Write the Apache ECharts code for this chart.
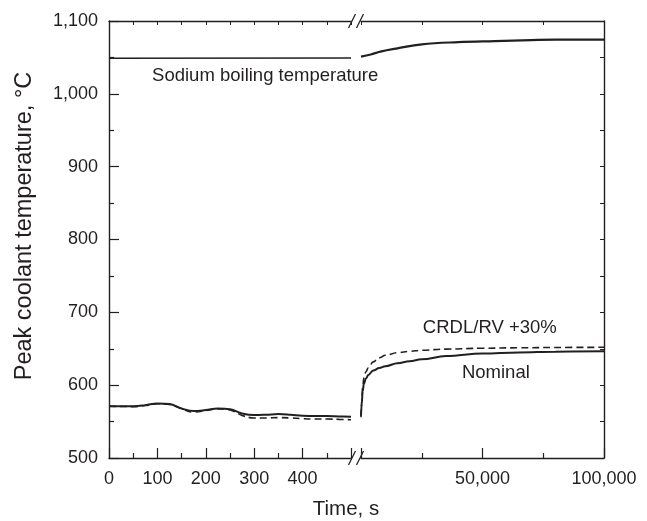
<!DOCTYPE html>
<html>
<head>
<meta charset="utf-8">
<script src="https://cdn.jsdelivr.net/npm/echarts@6/dist/echarts.min.js"></script>
<style>
html,body{margin:0;padding:0;background:#fff;}
#c{width:647px;height:521px;}
</style>
</head>
<body>
<div id="c"></div>
<script>
// ---- data ----
// left segment: time 0..500 s
const tLeft = [0,25,50,75,100,125,150,175,200,225,250,275,300,325,350,375,400,425,450,475,500];
const nominalLeft = [571.2,571.2,571.2,572.6,574.9,574,568,564.4,565.8,568,567,561.2,558.9,559.4,560.3,559.4,558,557.5,557.5,557,556.6];
const crdlLeft = [571,570.8,570.5,572,574.5,573.5,567.5,563,565,567.5,566,558.5,555,555,555.5,555,554,553.5,553.5,553,552.5];
const boilTLeft = [0,500];
const boilLeft = [1048.8,1049.3];
// right segment: time 0..100,000 s
const tRight = [0,300,700,1200,2000,3000,5000,7500,10000,15000,20000,25000,35000,50000,65000,80000,100000];
const nominalRight = [558,575,592,602,609,614,620,623.5,626,630,633,635.5,640,643.5,645,646,646.5];
const crdlRight = [556,578,598,610,618,624,632,637.5,641,644.5,646.5,648,649.5,650.7,651.3,651.8,652];
const boilTRight = [0,4000,8000,15000,25000,40000,55000,70000,80000,100000];
const boilRight = [1051,1054,1058,1062.5,1068,1071,1072.5,1073.8,1074.4,1074.4];
// axis ranges / ticks
const yMin = 500, yMax = 1100, yStep = 100;
const xLeftMax = 500, xLeftStep = 100;
const xRightMax = 100000, xRightStep = 50000;
// annotations (data coordinates)
const notes = [
  {text:'Sodium boiling temperature', grid:0, x:89, y:1024, align:'left'},
  {text:'CRDL/RV +30%', grid:1, x:53000, y:678, align:'center'},
  {text:'Nominal', grid:1, x:55500, y:616.5, align:'center'}
];

const FONT = '"Liberation Sans", Arial, Helvetica, sans-serif';
const INK = '#231f20';
const zip = (a,b) => a.map((v,i)=>[v,b[i]]);
const fmt = v => Number(v).toLocaleString('en-US');

const chart = echarts.init(document.getElementById('c'), null, {renderer:'canvas'});

const axisLineStyle = {color: INK, width: 1.4};
const option = {
  backgroundColor: '#fff',
  animation: false,
  grid: [
    {left: 109, top: 21, width: 242, height: 437},
    {left: 361, top: 21, width: 243, height: 437}
  ],
  xAxis: [
    {gridIndex:0, type:'value', position:'bottom', min:0, max:xLeftMax, interval:xLeftStep,
     axisLine:{show:true, onZero:false, lineStyle:axisLineStyle},
     axisTick:{show:true, inside:true, length:10, lineStyle:{color:INK, width:1.2}},
     minorTick:{show:true, splitNumber:2, length:5, lineStyle:{color:INK, width:1.2}},
     splitLine:{show:false},
     axisLabel:{show:true, margin:12, showMaxLabel:false, color:INK, fontFamily:FONT, fontSize:18, formatter: fmt}},
    {gridIndex:1, type:'value', position:'bottom', min:0, max:xRightMax, interval:xRightStep,
     axisLine:{show:true, onZero:false, lineStyle:axisLineStyle},
     axisTick:{show:true, inside:true, length:10, lineStyle:{color:INK, width:1.2}},
     minorTick:{show:true, splitNumber:2, length:5, lineStyle:{color:INK, width:1.2}},
     splitLine:{show:false},
     axisLabel:{show:true, margin:12, showMinLabel:false, color:INK, fontFamily:FONT, fontSize:18, formatter: fmt}},
    {gridIndex:0, type:'value', position:'top', min:0, max:xLeftMax, interval:xLeftStep/2,
     axisLine:{show:true, onZero:false, lineStyle:axisLineStyle},
     axisTick:{show:true, inside:true, length:4, lineStyle:{color:INK, width:1}},
     splitLine:{show:false}, axisLabel:{show:false}},
    {gridIndex:1, type:'value', position:'top', min:0, max:xRightMax, interval:xRightStep/2,
     axisLine:{show:true, onZero:false, lineStyle:axisLineStyle},
     axisTick:{show:true, inside:true, length:4, lineStyle:{color:INK, width:1}},
     splitLine:{show:false}, axisLabel:{show:false}}
  ],
  yAxis: [
    {gridIndex:0, type:'value', position:'left', min:yMin, max:yMax, interval:yStep,
     axisLine:{show:true, onZero:false, lineStyle:axisLineStyle},
     axisTick:{show:true, inside:true, length:10, lineStyle:{color:INK, width:1.2}},
     minorTick:{show:true, splitNumber:2, length:5, lineStyle:{color:INK, width:1.2}},
     splitLine:{show:false},
     axisLabel:{show:true, margin:11, color:INK, fontFamily:FONT, fontSize:18, formatter: fmt}},
    {gridIndex:1, type:'value', position:'right', min:yMin, max:yMax, interval:yStep/2,
     axisLine:{show:true, onZero:false, lineStyle:axisLineStyle},
     axisTick:{show:true, inside:true, length:4, lineStyle:{color:INK, width:1}},
     splitLine:{show:false}, axisLabel:{show:false}}
  ],
  series: [
    {type:'line', xAxisIndex:0, yAxisIndex:0, data: zip(boilTLeft, boilLeft), showSymbol:false,
     lineStyle:{color:INK, width:1.6}},
    {type:'line', xAxisIndex:1, yAxisIndex:1, data: zip(boilTRight, boilRight), showSymbol:false, smooth:0.4,
     lineStyle:{color:INK, width:2.2}},
    {type:'line', xAxisIndex:0, yAxisIndex:0, data: zip(tLeft, crdlLeft), showSymbol:false, smooth:0.4,
     lineStyle:{color:INK, width:1.6, type:[7,4]}},
    {type:'line', xAxisIndex:0, yAxisIndex:0, data: zip(tLeft, nominalLeft), showSymbol:false, smooth:0.4,
     lineStyle:{color:INK, width:2}},
    {type:'line', xAxisIndex:1, yAxisIndex:1, data: zip(tRight, crdlRight), showSymbol:false, smooth:0.4, smoothMonotone:'x',
     lineStyle:{color:INK, width:1.6, type:[7,4]}},
    {type:'line', xAxisIndex:1, yAxisIndex:1, data: zip(tRight, nominalRight), showSymbol:false, smooth:0.4, smoothMonotone:'x',
     lineStyle:{color:INK, width:2}}
  ]
};
chart.setOption(option);

// decorations derived from the axes: break marks, titles, annotations
const g = [];
const leftEnd = chart.convertToPixel({xAxisIndex:0}, xLeftMax);
const rightStart = chart.convertToPixel({xAxisIndex:1}, 0);
const yBottom = chart.convertToPixel({yAxisIndex:0}, yMin);
const yTop = chart.convertToPixel({yAxisIndex:0}, yMax);
[yBottom, yTop].forEach(yy => {
  [leftEnd + 1, rightStart - 1].forEach(cx => {
    g.push({type:'line', shape:{x1:cx-3.5, y1:yy+7, x2:cx+3.5, y2:yy-7}, style:{stroke:INK, lineWidth:1.3}});
  });
});
g.push({type:'text', x: 25, y: 226, rotation: Math.PI/2,
  style:{text:'Peak coolant temperature, °C', fill:INK, font:'23.5px ' + FONT, align:'center', verticalAlign:'middle'}});
g.push({type:'text', x: 346, y: 509,
  style:{text:'Time, s', fill:INK, font:'20.5px ' + FONT, align:'center', verticalAlign:'middle'}});
notes.forEach(n => {
  const p = chart.convertToPixel({gridIndex:n.grid}, [n.x, n.y]);
  g.push({type:'text', x:p[0], y:p[1], style:{text:n.text, fill:INK, font:'18.5px ' + FONT, align:n.align, verticalAlign:'middle'}});
});
chart.setOption({graphic: g});
</script>
</body>
</html>
